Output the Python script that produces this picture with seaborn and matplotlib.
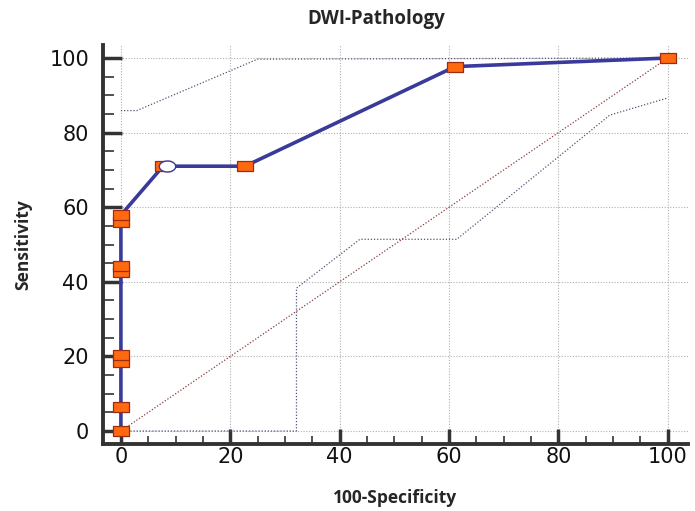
import matplotlib
matplotlib.use("Agg")
import matplotlib.pyplot as plt
import seaborn as sns
import numpy as np
import pandas as pd
from matplotlib.ticker import MultipleLocator

# ROC data
roc_fpr = [0, 0, 0, 0, 0, 0, 0, 0, 0, 7.7, 22.7, 61.1, 100]
roc_tpr = [0, 6.4, 18.4, 20.4, 42.6, 44.2, 56.0, 57.9, 57.9, 71.0, 71.0, 97.7, 100]
marker_fpr = [0, 0, 0, 0, 0, 0, 0, 0, 7.7, 22.7, 61.1, 100]
marker_tpr = [0, 6.4, 18.4, 20.4, 42.6, 44.2, 56.0, 57.9, 71.0, 71.0, 97.7, 100]
crit_fpr = [8.5]
crit_tpr = [71.0]
upper_fpr = [0, 2.9, 25.0, 100]
upper_tpr = [85.9, 85.9, 99.7, 100]
lower_fpr = [0, 32.1, 32.1, 43.7, 61.4, 89.4, 100]
lower_tpr = [0, 0, 38.3, 51.4, 51.4, 84.7, 89.3]
diag = [0, 100]
ticks = [0, 20, 40, 60, 80, 100]

sns.set_style("white")
plt.rcParams['font.family'] = ['Open Sans', 'DejaVu Sans']

fig = plt.figure(figsize=(6.95, 5.11), dpi=100)
ax = fig.add_axes([0.148, 0.131, 0.842, 0.781])

df_roc = pd.DataFrame({"x": roc_fpr, "y": roc_tpr})
df_mk = pd.DataFrame({"x": marker_fpr, "y": marker_tpr})
df_up = pd.DataFrame({"x": upper_fpr, "y": upper_tpr})
df_lo = pd.DataFrame({"x": lower_fpr, "y": lower_tpr})
df_dg = pd.DataFrame({"x": diag, "y": diag})
df_cr = pd.DataFrame({"x": crit_fpr, "y": crit_tpr})

# grid
for t in ticks:
    ax.axvline(t, color="#b0b0b0", lw=0.8, ls=(0, (1, 1.5)), zorder=0)
    ax.axhline(t, color="#b0b0b0", lw=0.8, ls=(0, (1, 1.5)), zorder=0)

sns.lineplot(data=df_dg, x="x", y="y", ax=ax, color="#8a3a3a", lw=0.9,
             ls=(0, (1, 1.5)), sort=False, estimator=None)
sns.lineplot(data=df_up, x="x", y="y", ax=ax, color="#555577", lw=0.9,
             ls=(0, (1, 1.5)), sort=False, estimator=None)
sns.lineplot(data=df_lo, x="x", y="y", ax=ax, color="#555577", lw=0.9,
             ls=(0, (1, 1.5)), sort=False, estimator=None)
sns.lineplot(data=df_roc, x="x", y="y", ax=ax, color="#3a3a9a", lw=2.6,
             sort=False, estimator=None)

rect = [(-1.5, -1), (1.5, -1), (1.5, 1), (-1.5, 1), (-1.5, -1)]
sns.scatterplot(data=df_mk, x="x", y="y", ax=ax, marker=rect, s=140,
                color="#ff6a10", edgecolor="#a02a10", linewidth=0.9, zorder=5)
theta = np.linspace(0, 2 * np.pi, 40)
ell = list(zip(1.5 * np.cos(theta), np.sin(theta)))
sns.scatterplot(data=df_cr, x="x", y="y", ax=ax, marker=ell, s=140,
                color="white", edgecolor="#3a3a9a", linewidth=1.0, zorder=6)

ax.set_xlim(-3.3, 103.7)
ax.set_ylim(-3.5, 103.5)
ax.set_xticks(ticks)
ax.set_yticks(ticks)
ax.xaxis.set_minor_locator(MultipleLocator(5))
ax.yaxis.set_minor_locator(MultipleLocator(5))
ax.tick_params(axis="y", which="major", direction="in", length=14, width=2.5,
               color="#333333", labelsize=15, pad=10)
ax.tick_params(axis="y", which="minor", direction="in", length=8, width=1.2,
               color="#333333")
ax.tick_params(axis="x", which="major", direction="in", length=11, width=2.5,
               color="#333333", labelsize=15, pad=2)
ax.tick_params(axis="x", which="minor", direction="in", length=6, width=1.2,
               color="#333333")
ax.tick_params(axis="x", which="both", bottom=True)
ax.tick_params(axis="y", which="both", left=True)
for lbl in ax.get_xticklabels() + ax.get_yticklabels():
    lbl.set_fontfamily("DejaVu Sans")
    lbl.set_color("#111111")

for s in ["top", "right"]:
    ax.spines[s].set_visible(False)
for s in ["left", "bottom"]:
    ax.spines[s].set_linewidth(2.8)
    ax.spines[s].set_color("#333333")

ax.set_xlabel("100-Specificity", fontsize=12.5, fontweight="bold", labelpad=16)
ax.set_ylabel("Sensitivity", fontsize=12.5, fontweight="bold", labelpad=12)
fig.text(0.541, 0.962, "DWI-Pathology", ha="center", va="center",
         fontsize=13.5, fontweight="bold")

fig.savefig("out.png", dpi=100)
